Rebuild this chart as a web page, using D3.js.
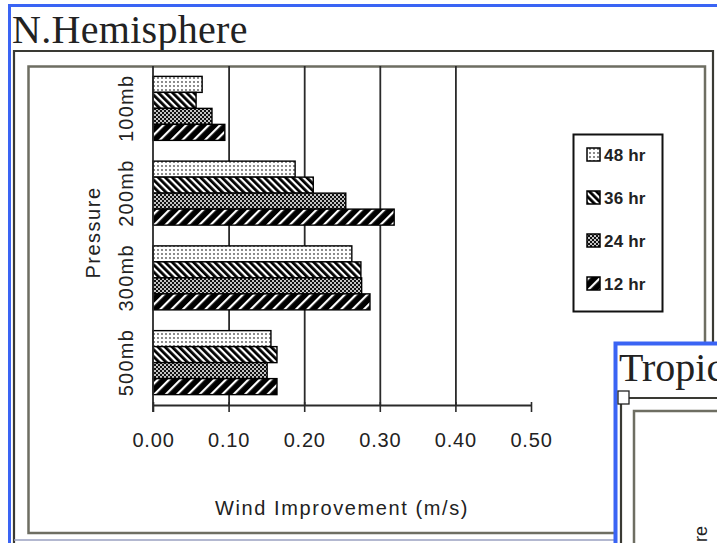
<!DOCTYPE html>
<html>
<head>
<meta charset="utf-8">
<script src="https://cdn.jsdelivr.net/npm/d3@7/dist/d3.min.js"></script>
<style>
  html, body { margin: 0; padding: 0; background: #fff; overflow: hidden; }
  svg { display: block; }
</style>
</head>
<body>
<svg id="chart" width="717" height="543"></svg>
<script>
// Pressure levels (category axis, top to bottom)
const categories = ["100mb", "200mb", "300mb", "500mb"];
// Forecast lead times, in the order they stack inside each level
const seriesNames = ["48 hr", "36 hr", "24 hr", "12 hr"];
// Wind improvement (m/s) per level for each lead time
const hr48 = [0.065, 0.188, 0.263, 0.156];
const hr36 = [0.057, 0.212, 0.275, 0.164];
const hr24 = [0.078, 0.255, 0.276, 0.151];
const hr12 = [0.095, 0.319, 0.287, 0.164];
// Value axis ticks
const xTicks = [0, 0.1, 0.2, 0.3, 0.4, 0.5];
const xTickLabels = ["0.00", "0.10", "0.20", "0.30", "0.40", "0.50"];

const seriesValues = [hr48, hr36, hr24, hr12];
const seriesPattern = ["pat48", "pat36", "pat24", "pat12"];

const svg = d3.select("#chart");
const sans = "'Liberation Sans', Arial, sans-serif";
const serif = "'Liberation Serif', 'Times New Roman', serif";
const blue = "#3a64f4";
const frameDark = "#3a3a34";
const frameGray = "#6e6e62";

svg.append("rect").attr("width", 717).attr("height", 543).attr("fill", "#fff");

// ---- hatch patterns for the four series ----
const defs = svg.append("defs");

// 48 hr: white with fine dots
const p48 = defs.append("pattern").attr("id", "pat48")
  .attr("patternUnits", "userSpaceOnUse").attr("width", 4).attr("height", 4);
p48.append("rect").attr("width", 4).attr("height", 4).attr("fill", "#fff");
p48.append("circle").attr("cx", 2).attr("cy", 2).attr("r", 0.9).attr("fill", "#555");

// 36 hr: dense back-slash stripes
const p36 = defs.append("pattern").attr("id", "pat36")
  .attr("patternUnits", "userSpaceOnUse").attr("width", 5).attr("height", 5)
  .attr("patternTransform", "rotate(-45)");
p36.append("rect").attr("width", 5).attr("height", 5).attr("fill", "#fff");
p36.append("rect").attr("width", 2.8).attr("height", 5).attr("fill", "#000");

// 24 hr: black with white dot grid
const p24 = defs.append("pattern").attr("id", "pat24")
  .attr("patternUnits", "userSpaceOnUse").attr("width", 4).attr("height", 4);
p24.append("rect").attr("width", 4).attr("height", 4).attr("fill", "#111");
p24.append("circle").attr("cx", 1).attr("cy", 1).attr("r", 1).attr("fill", "#fff");
p24.append("circle").attr("cx", 3).attr("cy", 3).attr("r", 1).attr("fill", "#fff");

// 12 hr: black with wide-spaced white forward-slash stripes
const p12 = defs.append("pattern").attr("id", "pat12")
  .attr("patternUnits", "userSpaceOnUse").attr("width", 8).attr("height", 8)
  .attr("patternTransform", "rotate(45)");
p12.append("rect").attr("width", 8).attr("height", 8).attr("fill", "#000");
p12.append("rect").attr("x", 3).attr("width", 2.2).attr("height", 8).attr("fill", "#fff");

// ---- outer window frame ----
svg.append("path")
  .attr("d", "M9.5,543 V5.5 H717")
  .attr("fill", "none").attr("stroke", blue).attr("stroke-width", 3);

// Title
svg.append("text")
  .attr("x", 12).attr("y", 43)
  .attr("font-family", serif).attr("font-size", 40)
  .attr("letter-spacing", 0.3)
  .attr("fill", "#222")
  .text("N.Hemisphere");

// Chart object borders (outer and inner box)
svg.append("path")
  .attr("d", "M14,543 V51 H713 V543")
  .attr("fill", "none").attr("stroke", frameDark).attr("stroke-width", 2.2);
svg.append("path")
  .attr("d", "M14,540 H717")
  .attr("fill", "none").attr("stroke", "#9aa0c0").attr("stroke-width", 1.5);
svg.append("rect")
  .attr("x", 28.5).attr("y", 66.5).attr("width", 676.5).attr("height", 466.5)
  .attr("fill", "none").attr("stroke", frameGray).attr("stroke-width", 2.5);

// ---- scales ----
const plotTop = 66, plotBottom = 405;
const x = d3.scaleLinear().domain([0, 0.5]).range([153, 531]);
const y = d3.scaleBand().domain(categories)
  .range([plotTop, plotBottom]).paddingInner(0.245).paddingOuter(0.1225);
const ySub = d3.scaleBand().domain(seriesNames).range([0, y.bandwidth()]);

// Vertical gridlines
const grid = svg.append("g").attr("transform", `translate(0,${plotBottom})`)
  .call(d3.axisBottom(x).tickValues(xTicks.slice(1, 5))
    .tickSize(-(plotBottom - plotTop)).tickFormat(""));
grid.select(".domain").remove();
grid.selectAll(".tick line").attr("stroke", "#2a2a2a").attr("stroke-width", 1.8);

// ---- bars ----
const barData = [];
categories.forEach((c, ci) => {
  seriesNames.forEach((s, si) => {
    barData.push({ cat: c, series: s, value: seriesValues[si][ci], pat: seriesPattern[si] });
  });
});
svg.append("g").selectAll("rect").data(barData).join("rect")
  .attr("x", x(0))
  .attr("y", d => y(d.cat) + ySub(d.series))
  .attr("width", d => x(d.value) - x(0))
  .attr("height", ySub.bandwidth())
  .attr("fill", d => `url(#${d.pat})`)
  .attr("stroke", "#000").attr("stroke-width", 1.4);

// ---- value axis ----
const xAxis = svg.append("g").attr("transform", `translate(0,${plotBottom})`)
  .call(d3.axisBottom(x).tickValues(xTicks)
    .tickFormat((d, i) => xTickLabels[i]).tickSize(7).tickSizeOuter(0));
xAxis.select(".domain").attr("stroke", "#2a2a2a").attr("stroke-width", 1.8);
xAxis.selectAll(".tick line").attr("y1", -3).attr("y2", 7)
  .attr("stroke", "#2a2a2a").attr("stroke-width", 1.6);
xAxis.selectAll(".tick text")
  .attr("y", 42).attr("dy", null)
  .attr("font-family", sans).attr("font-size", 20)
  .attr("letter-spacing", 0.8).attr("fill", "#222");

// ---- category axis ----
const yAxis = svg.append("g").attr("transform", `translate(${x(0)},0)`)
  .call(d3.axisLeft(y).tickSize(0).tickSizeOuter(0));
yAxis.select(".domain").attr("stroke", "#2a2a2a").attr("stroke-width", 1.8)
  .attr("d", `M0,${plotTop}V${plotBottom + 7}`);
yAxis.selectAll(".tick text")
  .attr("x", null).attr("dy", null)
  .attr("transform", "translate(-20,0) rotate(-90)")
  .attr("text-anchor", "middle")
  .attr("font-family", sans).attr("font-size", 20)
  .attr("letter-spacing", 1.2).attr("fill", "#222");

// Axis titles
svg.append("text")
  .attr("transform", `translate(100,${(plotTop + plotBottom) / 2 - 3}) rotate(-90)`)
  .attr("text-anchor", "middle")
  .attr("font-family", sans).attr("font-size", 20)
  .attr("letter-spacing", 1.5).attr("fill", "#222")
  .text("Pressure");
svg.append("text")
  .attr("x", (x(0) + x(0.5)) / 2).attr("y", 515)
  .attr("text-anchor", "middle")
  .attr("font-family", sans).attr("font-size", 20)
  .attr("letter-spacing", 1.6).attr("fill", "#222")
  .text("Wind Improvement (m/s)");

// ---- legend ----
const legend = svg.append("g");
legend.append("rect")
  .attr("x", 573.5).attr("y", 134.5).attr("width", 89).attr("height", 177)
  .attr("fill", "#fff").attr("stroke", "#111").attr("stroke-width", 2);
const legendY = d3.scalePoint().domain(seriesNames).range([155, 284]);
const items = legend.selectAll("g.item").data(seriesNames).join("g")
  .attr("class", "item")
  .attr("transform", d => `translate(0,${legendY(d)})`);
items.append("rect")
  .attr("x", 587).attr("y", -7).attr("width", 13).attr("height", 13)
  .attr("fill", (d, i) => `url(#${seriesPattern[i]})`)
  .attr("stroke", "#000").attr("stroke-width", 1.5);
items.append("text")
  .attr("x", 604).attr("y", 6)
  .attr("font-family", sans).attr("font-size", 17)
  .attr("font-weight", "bold").attr("letter-spacing", 0.2)
  .attr("fill", "#222")
  .text(d => d);

// ---- neighbouring Tropics chart, partly in view ----
const trop = svg.append("g");
trop.append("rect")
  .attr("x", 615.5).attr("y", 343.5).attr("width", 110).attr("height", 210)
  .attr("fill", "#fff").attr("stroke", blue).attr("stroke-width", 4);
trop.append("text")
  .attr("x", 619).attr("y", 381)
  .attr("font-family", serif).attr("font-size", 40)
  .attr("fill", "#222")
  .text("Tropics");
trop.append("path")
  .attr("d", "M621,543 V398 H717")
  .attr("fill", "none").attr("stroke", frameDark).attr("stroke-width", 2.2);
trop.append("path")
  .attr("d", "M634,543 V411 H717")
  .attr("fill", "none").attr("stroke", frameGray).attr("stroke-width", 2.5);
trop.append("rect")
  .attr("x", 618).attr("y", 391).attr("width", 11).attr("height", 13)
  .attr("fill", "#fff").attr("stroke", "#222").attr("stroke-width", 1.3);
trop.append("text")
  .attr("transform", "translate(707,526) rotate(-90)")
  .attr("text-anchor", "end")
  .attr("font-family", sans).attr("font-size", 18)
  .attr("fill", "#222")
  .text("Pressure");
</script>
</body>
</html>
